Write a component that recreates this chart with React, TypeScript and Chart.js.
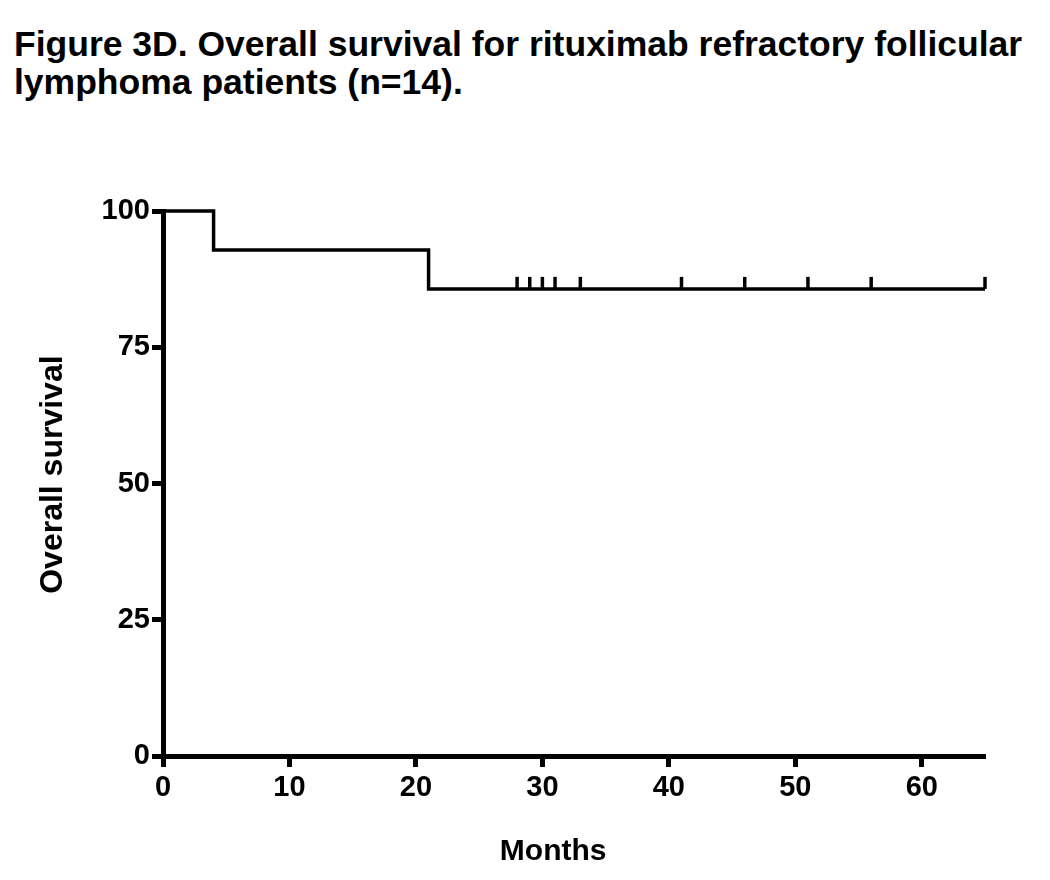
import React, { useEffect, useRef } from "react";
import { Chart, registerables } from "chart.js";

Chart.register(...registerables);

// Kaplan-Meier overall survival (percent) for rituximab refractory FL (n=14)
const stepMonths: number[] = [0, 4, 21, 65];
const stepSurvival: number[] = [100, 92.86, 85.71, 85.71];
const censorMonths: number[] = [28, 29, 30, 31, 33, 41, 46, 51, 56, 65];
const yTicks: number[] = [0, 25, 50, 75, 100];
const xTicks: number[] = [0, 10, 20, 30, 40, 50, 60];

const titleLines: string[] = [
  "Figure 3D. Overall survival for rituximab refractory follicular",
  "lymphoma patients (n=14).",
];
const xTitle = "Months";
const yTitle = "Overall survival";

const FONT = "'Liberation Sans', Arial, Helvetica, sans-serif";

function survivalAt(t: number): number {
  let s = stepSurvival[0];
  for (let i = 0; i < stepMonths.length; i++) {
    if (stepMonths[i] <= t) s = stepSurvival[i];
  }
  return s;
}

export default function App() {
  const ref = useRef<HTMLCanvasElement | null>(null);

  useEffect(() => {
    if (!ref.current) return;
    const chart = new Chart(ref.current, {
      type: "line",
      data: {
        datasets: [
          {
            label: "Overall survival",
            data: stepMonths.map((m, i) => ({ x: m, y: stepSurvival[i] })),
            stepped: true,
            borderColor: "#000",
            borderWidth: 3.5,
            pointRadius: 0,
            fill: false,
            clip: false as any,
          },
          {
            label: "Censored",
            type: "scatter" as any,
            data: censorMonths.map((m) => ({ x: m, y: survivalAt(m) })),
            pointStyle: "dash",
            rotation: -90,
            radius: 12,
            borderColor: "#000",
            borderWidth: 3.5,
            backgroundColor: "#000",
            showLine: false,
            clip: false as any,
          },
        ],
      },
      options: {
        animation: false,
        responsive: false,
        devicePixelRatio: 1,
        layout: { padding: { top: 211, right: 65, left: 0, bottom: 0 } },
        plugins: {
          legend: { display: false },
          tooltip: { enabled: false },
          title: { display: false },
        },
        scales: {
          x: {
            type: "linear",
            min: 0,
            max: 65,
            afterFit: (s: any) => {
              s.height = 124;
            },
            afterBuildTicks: (s: any) => {
              s.ticks = xTicks.map((v) => ({ value: v }));
            },
            ticks: {
              includeBounds: false,
              color: "#000",
              padding: 4,
              font: { family: FONT, size: 29, weight: "bold" },
            },
            grid: {
              drawOnChartArea: false,
              drawTicks: true,
              tickLength: 11,
              tickWidth: 5,
              tickColor: "#000",
            },
            border: { display: true, color: "#000", width: 5 },
            title: {
              display: true,
              text: xTitle + "     ",
              color: "#000",
              font: { family: FONT, size: 30, weight: "bold" },
              padding: { top: 0, bottom: 10 },
            },
          },
          y: {
            type: "linear",
            min: 0,
            max: 100,
            afterFit: (s: any) => {
              s.width = 163;
            },
            afterBuildTicks: (s: any) => {
              s.ticks = yTicks.map((v) => ({ value: v }));
            },
            ticks: {
              color: "#000",
              padding: 2,
              font: { family: FONT, size: 29, weight: "bold" },
            },
            grid: {
              drawOnChartArea: false,
              drawTicks: true,
              tickLength: 11,
              tickWidth: 5,
              tickColor: "#000",
            },
            border: { display: true, color: "#000", width: 5 },
            title: {
              display: true,
              text: "  " + yTitle,
              color: "#000",
              font: { family: FONT, size: 32, weight: "bold" },
              padding: { top: 34, bottom: 0 },
            },
          },
        },
      } as any,
    });
    return () => chart.destroy();
  }, []);

  return (
    <div
      style={{
        position: "fixed",
        left: 0,
        top: 0,
        width: 1050,
        height: 880,
        background: "#fff",
      }}
    >
      <div
        style={{
          position: "absolute",
          left: 14,
          top: 25,
          fontFamily: FONT,
          fontWeight: "bold",
          fontSize: 35.5,
          lineHeight: "38px",
          color: "#000",
          whiteSpace: "nowrap",
        }}
      >
        {titleLines.map((l, i) => (
          <div key={i}>{l}</div>
        ))}
      </div>
      <canvas
        ref={ref}
        width={1050}
        height={880}
        style={{ position: "absolute", left: 0, top: 0, width: 1050, height: 880 }}
      />
    </div>
  );
}
